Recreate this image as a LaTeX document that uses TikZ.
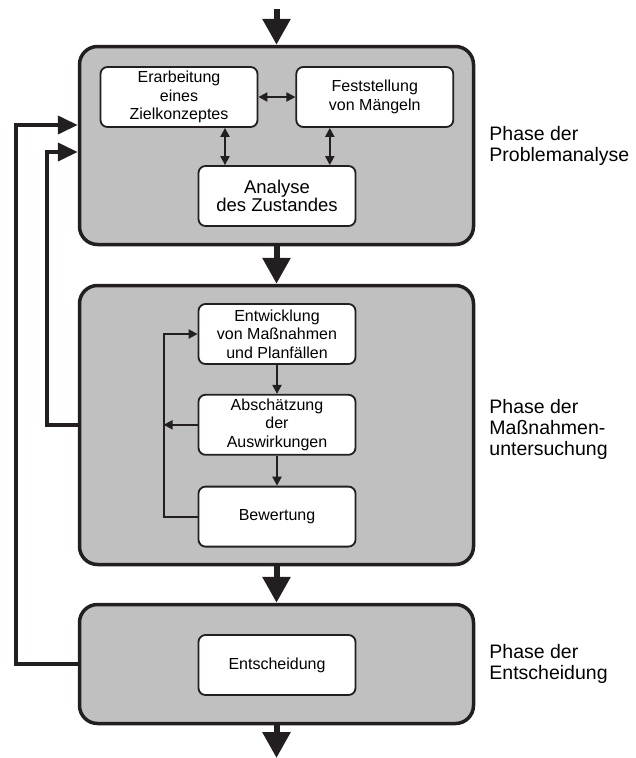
\documentclass[tikz,border=0pt]{standalone}
\usepackage{fontspec}
\setmainfont{Liberation Sans}
\usetikzlibrary{positioning,calc,arrows.meta}
\definecolor{phase_grey}{HTML}{C0C0C0}
\definecolor{line_black}{HTML}{231F20}
\tikzset{PHASE/.style={rectangle,rounded corners=18pt,draw=line_black,line width=3.5pt,fill=phase_grey,minimum width=394pt,inner sep=0pt}}
\tikzset{STEP/.style={rectangle,rounded corners=7pt,draw=line_black,line width=1.8pt,fill=white,minimum width=157pt,minimum height=60pt,inner sep=0pt,align=center,font=\fontsize{16}{18.5}\selectfont}}
\tikzset{LABEL/.style={anchor=west,align=left,inner sep=0pt,font=\fontsize{19.5}{21}\selectfont}}
\tikzset{FLOW/.style={line width=6pt,draw=line_black,-{Triangle[length=26pt,width=27pt,fill=line_black]}}}
\tikzset{BACK/.style={line width=4pt,draw=line_black,-{Triangle[length=20pt,width=18pt,fill=line_black]}}}
\tikzset{ARROW/.style={line width=2pt,draw=line_black,-{Triangle[length=9pt,width=9pt,fill=line_black]}}}
\tikzset{DARROW/.style={line width=2pt,draw=line_black,{Triangle[length=9pt,width=9pt,fill=line_black]}-{Triangle[length=9pt,width=9pt,fill=line_black]}}}

\begin{document}
\begin{tikzpicture}[x=1pt,y=-1pt]

\useasboundingbox (0,0) rectangle (635,758);

\node[PHASE, minimum height=198pt] (n_problem) at (276.5,145.5) {};
\node[PHASE, minimum height=279pt] (n_massnahmen) at (276.5,425) {};
\node[PHASE, minimum height=119pt] (n_entscheidung_phase) at (276.5,664) {};

\node[LABEL, right=14pt of n_problem] (l_problem) {Phase der\\Problemanalyse};
\node[LABEL, right=14pt of n_massnahmen, yshift=-4pt] (l_massnahmen) {Phase der\\Maßnahmen-\\untersuchung};
\node[LABEL, right=14pt of n_entscheidung_phase] (l_entscheidung) {Phase der\\Entscheidung};

\node[STEP] (n_erarbeitung) at (179,97) {Erarbeitung\\eines\\Zielkonzeptes};
\node[STEP, right=37pt of n_erarbeitung] (n_feststellung) {Feststellung\\von Mängeln};
\node[STEP, font=\fontsize{18.5}{18.5}\selectfont] (n_analyse) at (277,196) {Analyse\\des Zustandes};

\node[STEP] (n_entwicklung) at (277,334) {Entwicklung\\von Maßnahmen\\und Planfällen};
\node[STEP, below=29pt of n_entwicklung] (n_abschaetzung) {Abschätzung\\der\\Auswirkungen};
\node[STEP, below=30pt of n_abschaetzung] (n_bewertung) {Bewertung};

\node[STEP] (n_entscheidung) at (277,665) {Entscheidung};

\coordinate (c_start) at (276.5,9);
\coordinate (c_end) at (276.5,758);
\draw[FLOW] (c_start) -- (n_problem.north);
\draw[FLOW] (n_problem.south) -- (n_massnahmen.north);
\draw[FLOW] (n_massnahmen.south) -- (n_entscheidung_phase.north);
\draw[FLOW] (n_entscheidung_phase.south) -- (c_end);

\draw[DARROW] (n_erarbeitung.east) -- (n_feststellung.west);
\coordinate (c_erarb_ana) at ($(n_erarbeitung.south)+(46pt,0)$);
\coordinate (c_fest_ana) at ($(n_feststellung.south)+(-45pt,0)$);
\draw[DARROW] (c_erarb_ana) -- (c_erarb_ana |- n_analyse.north);
\draw[DARROW] (c_fest_ana) -- (c_fest_ana |- n_analyse.north);

\draw[ARROW] (n_entwicklung.south) -- (n_abschaetzung.north);
\draw[ARROW] (n_abschaetzung.south) -- (n_bewertung.north);
\coordinate (c_loop) at ($(n_entwicklung.west)+(-34pt,0)$);
\draw[ARROW] (n_bewertung.west) -| (c_loop) -- (n_entwicklung.west);
\draw[ARROW] (n_abschaetzung.west) -- (n_abschaetzung.west -| c_loop);

\coordinate (c_outer) at (16,125);
\coordinate (c_inner) at (47,152);
\draw[BACK, line join=miter] (n_entscheidung_phase.west) -| (c_outer) -- (n_problem.west |- c_outer);
\draw[BACK, line join=miter] (n_massnahmen.west) -| (c_inner) -- (n_problem.west |- c_inner);

\end{tikzpicture}
\end{document}
